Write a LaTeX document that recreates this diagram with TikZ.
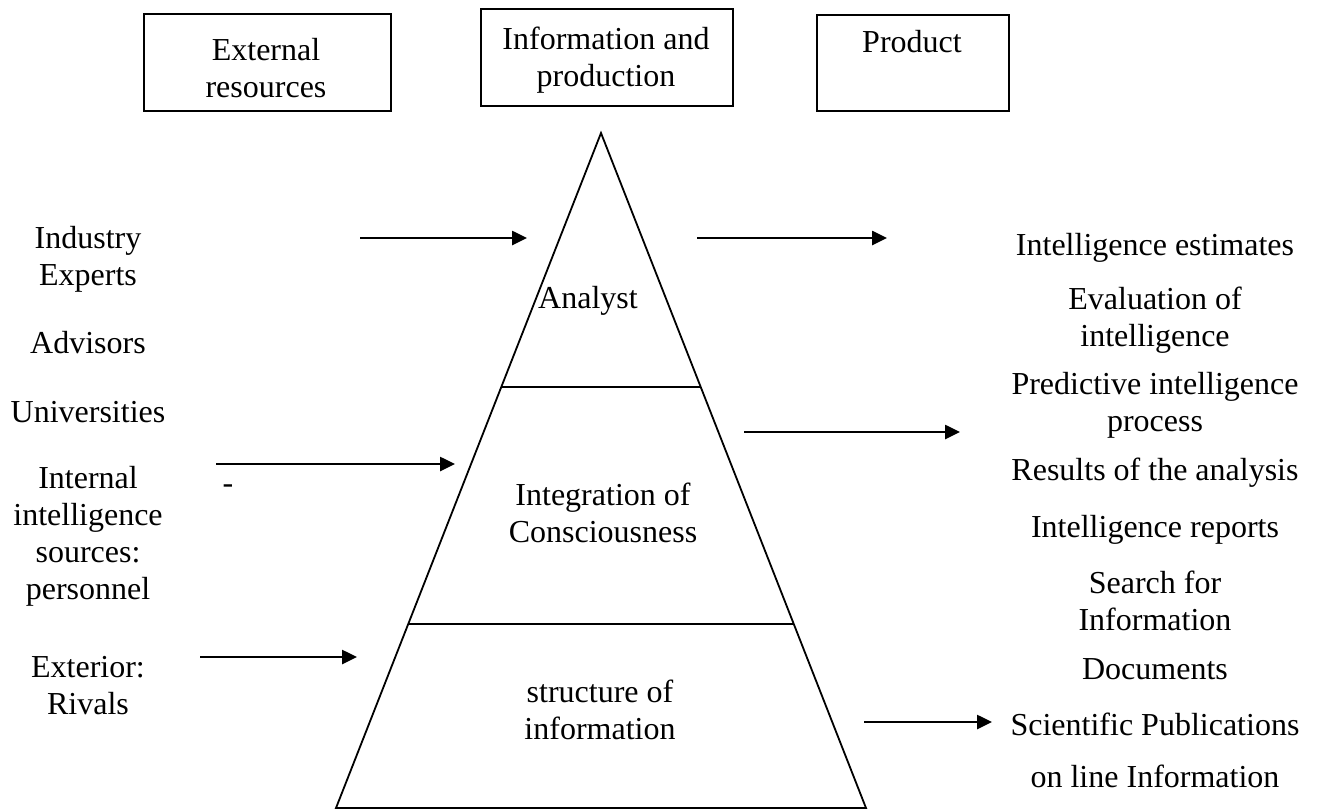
\documentclass[tikz,border=0pt]{standalone}
\usepackage{fontspec}
\setmainfont{Liberation Serif}
\usepackage{tikz}
\usetikzlibrary{arrows.meta, positioning, calc}
\tikzset{
x=0.5pt, y=-0.5pt, % one unit is one pixel of the sketch
>={Triangle[length=7.5pt,width=7pt]}, % makes the arrow heads filled
every node/.style={font=\fontsize{16}{18.5}\selectfont, align=center, inner sep=0pt}, % text of every label
headbox/.style={draw, line width=1pt, anchor=north west}, % the three boxes on top
flow/.style={->, line width=1.3pt}, % the arrows
layer/.style={line width=0.9pt}, % the pyramid and its levels
}
\begin{document}
\begin{tikzpicture}
\useasboundingbox (0,0) rectangle (1317,810);
% boxes on top
\node[headbox, minimum width=123.5pt, minimum height=48.5pt] (extbox) at (143,13) {};
\node[headbox, minimum width=126pt, minimum height=48.5pt] (infobox) at (480,8) {};
\node[headbox, minimum width=96pt, minimum height=48pt] (prodbox) at (816,14) {};
\node (ext) at (266,68) {External\\resources};
\node (info) at (606,60) {Information and\\production};
\node (prod) at (912,42) {Product};
% pyramid
\coordinate (apex) at (601,133);
\coordinate (bl) at (336,808);
\coordinate (br) at (866,808);
\draw[layer] (apex) -- (bl) -- (br) -- cycle;
\draw[layer] ($(apex)!254/675!(bl)$) -- ($(apex)!254/675!(br)$);
\draw[layer] ($(apex)!491/675!(bl)$) -- ($(apex)!491/675!(br)$);
\node (analyst) at (588,301) {Analyst};
\node (integ) at (603,513) {Integration of\\Consciousness};
\node (struct) at (600,710) {structure of\\information};
% sources
\node (experts) at (88,259) {Industry\\Experts};
\node (advisors) at (88,343) {Advisors};
\node (univ) at (88,412) {Universities};
\node (internal) at (88,536) {Internal\\intelligence\\sources:\\personnel};
\node (rivals) at (88,686) {Exterior:\\Rivals};
\node (dash) at (228,489) {-};
% products
\node (estim) at (1155,248) {Intelligence estimates};
\node (evalint) at (1155,320) {Evaluation of\\intelligence};
\node (predict) at (1155,405) {Predictive intelligence\\process};
\node (results) at (1155,473) {Results of the analysis};
\node (reports) at (1155,530) {Intelligence reports};
\node (search) at (1155,601) {Search for\\Information};
\node (docs) at (1155,669) {Documents};
\node (publ) at (1155,724) {Scientific Publications};
\node (online) at (1155,776) {on line Information};
% arrows
\coordinate (s1) at (360,238); \coordinate (t1) at (527,238);
\coordinate (s2) at (697,238); \coordinate (t2) at (887,238);
\coordinate (s3) at (216,464); \coordinate (t3) at (455,464);
\coordinate (s4) at (744,432); \coordinate (t4) at (960,432);
\coordinate (s5) at (200,657); \coordinate (t5) at (357,657);
\coordinate (s6) at (864,722); \coordinate (t6) at (992,722);
\foreach \i in {1,...,6}
  \draw[flow] (s\i) -- (t\i);
\end{tikzpicture}
\end{document}
